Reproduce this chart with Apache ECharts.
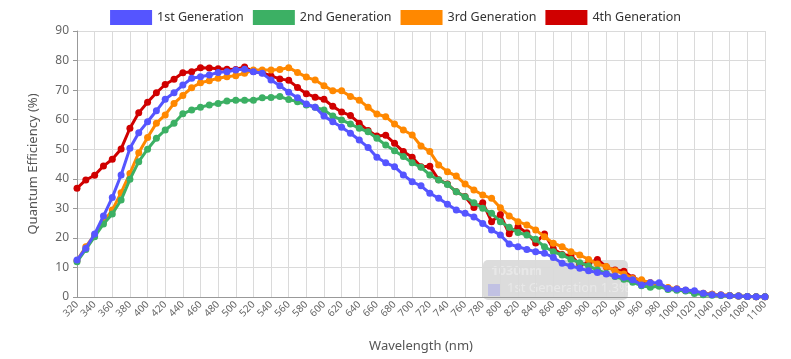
<!DOCTYPE html>
<html><head><meta charset="utf-8">
<script src="https://cdn.jsdelivr.net/npm/echarts@6/dist/echarts.min.js"></script>
<style>html,body{margin:0;padding:0;background:#fff}#c{width:791px;height:359px}</style>
</head><body><div id="c"></div>
<script>
var wavelengths = [];
for (var w = 320; w <= 1100; w += 10) wavelengths.push(w);

var gen1 = [12.5,16.5,21.3,27.4,33.7,41.3,50.3,55.6,59.3,63.0,66.9,69.1,71.7,74.0,74.5,75.1,76.0,76.2,76.8,77.1,76.2,75.7,73.4,71.5,69.3,67.4,65.3,64.2,61.2,59.3,57.4,55.4,53.1,50.6,47.3,45.4,44.1,41.3,39.0,37.6,35.1,33.4,31.4,29.4,28.3,27.1,24.9,22.7,21.0,17.9,17.0,16.1,15.3,14.8,13.4,11.4,10.5,9.7,8.9,8.3,7.8,7.1,6.7,5.8,4.1,4.8,4.8,2.9,2.7,2.4,2.1,1.3,0.8,0.7,0.4,0.3,0.2,0.1,0.1];
var gen2 = [11.9,16.1,20.4,24.7,28.1,32.8,39.8,45.8,50.0,53.7,56.5,58.8,62.0,63.3,64.2,65.0,65.5,66.3,66.6,66.6,66.6,67.4,67.5,67.8,66.8,66.1,65.0,64.2,63.3,61.2,59.9,58.5,57.1,55.9,53.7,51.4,49.5,47.5,45.4,43.9,41.3,39.6,38.1,35.6,33.9,31.9,30.0,28.3,25.5,23.6,21.8,21.0,19.5,17.0,15.3,14.2,12.7,11.6,10.5,9.1,8.0,6.9,6.0,5.0,3.8,3.3,3.6,2.5,2.3,2.0,1.2,0.8,0.6,0.5,0.4,0.3,0.2,0.1,0.1];
var gen3 = [12.3,17.0,21.0,25.5,29.4,35.3,41.8,48.8,54.0,58.8,61.6,65.5,68.2,70.8,72.5,73.2,74.0,74.5,74.9,75.7,76.8,76.8,76.8,77.0,77.6,76.0,74.4,73.4,71.5,69.8,69.8,67.8,66.6,64.2,61.9,61.0,58.5,56.5,54.8,51.1,49.2,44.7,42.4,40.9,38.2,36.2,34.5,33.4,30.2,27.4,25.5,24.4,22.7,20.4,18.2,17.0,15.3,14.2,12.7,11.2,10.3,8.9,7.8,6.3,5.8,4.8,4.1,3.2,2.8,2.3,1.8,1.3,0.9,0.7,0.5,0.3,0.2,0.1,0.1];
var gen4 = [36.8,39.6,41.2,44.3,46.6,50.1,57.1,62.3,65.9,69.1,71.9,73.7,75.9,76.2,77.6,77.5,77.2,77.1,77.0,77.8,76.3,75.9,74.8,73.8,73.3,70.9,68.8,67.6,66.9,64.5,62.6,61.4,58.8,56.3,54.5,54.7,52.0,49.2,47.3,44.1,44.2,39.7,38.2,35.6,34.0,30.3,31.9,25.5,27.9,21.4,23.8,21.7,18.3,21.3,16.3,14.4,14.0,11.0,11.4,12.7,10.2,9.1,8.7,6.5,5.5,4.8,4.0,3.0,2.6,2.2,1.7,1.2,0.9,0.7,0.5,0.3,0.2,0.1,0.1];

var seriesNames = ['1st Generation','2nd Generation','3rd Generation','4th Generation'];
var seriesColors = ['#5555ff','#3cb064','#ff8800','#d00000'];
var seriesValues = [gen1, gen2, gen3, gen4];

var FONT = '"Noto Sans", sans-serif';

function pairs(vals){ return wavelengths.map(function(w,i){ return [w, vals[i]]; }); }

var series = [];
for (var k = 3; k >= 0; k--) {
  series.push({
    name: seriesNames[k], type: 'line', data: pairs(seriesValues[k]),
    symbol: 'circle', symbolSize: 7, showSymbol: true,
    lineStyle: {width: 3, color: seriesColors[k]},
    itemStyle: {color: seriesColors[k]},
    z: 2 + (3 - k)
  });
}

var chart = echarts.init(document.getElementById('c'), null, {renderer: 'canvas'});
chart.setOption({
  animation: false,
  color: seriesColors,
  textStyle: {fontFamily: FONT},
  legend: {
    data: seriesNames, top: 5, left: 'center',
    itemWidth: 42, itemHeight: 15, itemGap: 9,
    icon: 'rect',
    textStyle: {fontSize: 12.5, color: '#333', fontFamily: FONT}
  },
  grid: {left: 77, right: 26, top: 31, bottom: 62},
  xAxis: {
    type: 'value', min: 320, max: 1100, interval: 20,
    name: 'Wavelength (nm)', nameLocation: 'middle', nameGap: 43,
    nameTextStyle: {fontSize: 13, color: '#555', fontFamily: FONT},
    axisLine: {lineStyle: {color: '#999'}},
    axisTick: {show: false},
    axisLabel: {rotate: 45, fontSize: 10, color: '#666', margin: 6, fontFamily: FONT,
      formatter: function(v){ return String(v); }},
    splitLine: {show: true, lineStyle: {color: '#dadada'}}
  },
  yAxis: {
    type: 'value', min: 0, max: 90, interval: 10,
    name: 'Quantum Efficiency (%)', nameLocation: 'middle', nameGap: 37,
    nameTextStyle: {fontSize: 13, color: '#555', fontFamily: FONT},
    axisLine: {show: true, lineStyle: {color: '#999'}},
    axisTick: {show: true, length: 4, lineStyle: {color: '#999'}},
    axisLabel: {fontSize: 12, color: '#666', margin: 8, fontFamily: FONT},
    splitLine: {show: true, lineStyle: {color: '#dadada'}}
  },
  series: series,
  graphic: [{
    type: 'group', left: 483, top: 260, z: 100,
    children: [
      {type: 'rect', shape: {x: 0, y: 0, width: 145, height: 40, r: 5}, style: {fill: 'rgba(60,60,60,0.18)'}},
      {type: 'text', x: 8, y: 5, style: {text: '1030nm', fill: 'rgba(255,255,255,0.35)', font: 'bold 13px "Noto Sans", sans-serif'}},
      {type: 'rect', shape: {x: 5, y: 24, width: 13, height: 12}, style: {fill: 'rgba(85,85,255,0.2)'}},
      {type: 'text', x: 24, y: 22, style: {text: '1st Generation 1.3%', fill: 'rgba(255,255,255,0.35)', font: '13px "Noto Sans", sans-serif'}}
    ]
  }]
});
</script></body></html>
